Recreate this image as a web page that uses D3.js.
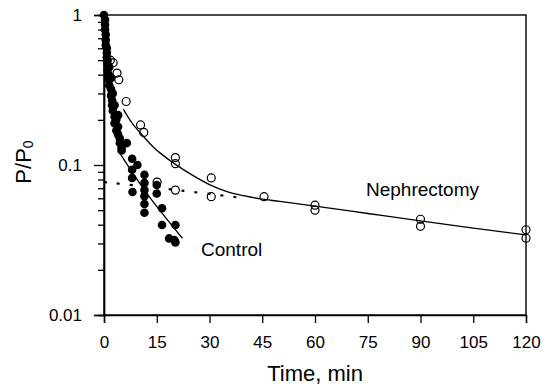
<!DOCTYPE html>
<html>
<head>
<meta charset="utf-8">
<script src="https://cdn.jsdelivr.net/npm/d3@7"></script>
<style>
  body { margin: 0; background: #fff; }
  text { font-family: "Liberation Sans", Arial, sans-serif; fill: #000; }
</style>
</head>
<body>
<div id="container"></div>
<script>
// values (time in min, P/P0)
const controlTime  = [0, 0.3, 0.3, 0.3, 0.5, 0.5, 0.5, 0.8, 0.8, 0.8, 1.0, 1.0, 1.0, 1.3, 1.3, 1.5, 1.5,
                      2.0, 2.0, 2.0, 2.3, 2.3, 2.5, 2.5, 3.0, 3.0, 3.0, 3.5, 3.5, 4.0, 4.0, 4.0, 4.5, 4.5,
                      5.0, 5.0, 6.5, 8.0, 8.0, 8.0, 8.1, 9.5, 11.5, 11.5, 11.5, 11.5, 11.5, 11.5,
                      15.0, 15.0, 16.5, 16.5, 20.3, 18.5, 20.0, 20.3];
const controlRatio = [1.0, 0.93, 0.86, 0.80, 0.74, 0.68, 0.63, 0.60, 0.56, 0.52, 0.50, 0.47, 0.43, 0.40, 0.37, 0.34, 0.45,
                      0.32, 0.29, 0.38, 0.27, 0.25, 0.23, 0.30, 0.21, 0.25, 0.19, 0.20, 0.17, 0.16, 0.18, 0.215, 0.15, 0.14,
                      0.13, 0.125, 0.14, 0.11, 0.093, 0.082, 0.066, 0.10, 0.086, 0.076, 0.068, 0.062, 0.055, 0.048,
                      0.0645, 0.0736, 0.0515, 0.0398, 0.0398, 0.0324, 0.0316, 0.0305];

const nephTime  = [1.8, 2.6, 3.7, 4.2, 6.3, 10.4, 11.3, 15.1, 20.3, 20.3, 20.3, 30.5, 30.5, 45.5, 60, 60, 90, 90, 120, 120];
const nephRatio = [0.50, 0.48, 0.41, 0.37, 0.265, 0.185, 0.165, 0.077, 0.112, 0.102, 0.068, 0.082, 0.0615, 0.0615,
                   0.054, 0.050, 0.0435, 0.039, 0.037, 0.0325];

// fitted curves
const nephFitTime  = [5.5, 8, 10.9, 14, 16, 20.3, 25, 30.3, 35, 40, 45, 50, 60, 75, 90, 105, 120];
const nephFitRatio = [0.236, 0.19, 0.158, 0.132, 0.12, 0.101, 0.086, 0.0735, 0.0665, 0.0622, 0.0592, 0.0572, 0.0532, 0.0475, 0.0424, 0.038, 0.0342];
const terminalTime  = [0, 22, 40];
const terminalRatio = [0.077, 0.0675, 0.06];
const controlFitTime  = [4, 11.9, 22.3];
const controlFitRatio = [0.125, 0.066, 0.0325];

const xTicks = [0, 15, 30, 45, 60, 75, 90, 105, 120];
const yTicks = [0.01, 0.1, 1];
const yTickLabels = ["0.01", "0.1", "1"];
const yMinor = [2, 3, 4, 5, 6, 7, 8, 9].flatMap(m => [m * 0.01, m * 0.1]);

const width = 544, height = 388;
const x = d3.scaleLinear().domain([0, 120]).range([104, 526]);
const y = d3.scaleLog().domain([0.01, 1]).range([315, 15]);

const svg = d3.select("#container")
  .append("svg")
    .attr("width", width)
    .attr("height", height);

// frame
svg.append("rect")
    .attr("x", x(0)).attr("y", y(1))
    .attr("width", x(120) - x(0)).attr("height", y(0.01) - y(1))
    .attr("fill", "none")
    .attr("stroke", "#000")
    .attr("stroke-width", 1.4);

const xAxis = svg.append("g")
    .attr("transform", `translate(0,${y(0.01)})`)
    .call(d3.axisBottom(x).tickValues(xTicks).tickSize(8).tickPadding(13).tickFormat(d3.format("d")));
const yAxis = svg.append("g")
    .attr("transform", `translate(${x(0)},0)`)
    .call(d3.axisLeft(y).tickValues(yTicks).tickSize(10).tickPadding(12)
      .tickFormat((d, i) => yTickLabels[i]));
const yAxisMinor = svg.append("g")
    .attr("transform", `translate(${x(0)},0)`)
    .call(d3.axisLeft(y).tickValues(yMinor).tickSize(6).tickFormat(""));

[xAxis, yAxis, yAxisMinor].forEach(g => {
  g.select(".domain").attr("stroke-width", 1.4);
  g.selectAll(".tick line").attr("stroke-width", 1.3);
  g.selectAll(".tick text").style("font-size", "17px").attr("fill", "#000");
});

const line = d3.line()
    .x(d => x(d[0]))
    .y(d => y(d[1]))
    .curve(d3.curveCatmullRom);

svg.append("path")
    .datum(nephFitTime.map((t, i) => [t, nephFitRatio[i]]))
    .attr("d", line)
    .attr("fill", "none")
    .attr("stroke", "#000")
    .attr("stroke-width", 1.3);

svg.append("path")
    .datum(terminalTime.map((t, i) => [t, terminalRatio[i]]))
    .attr("d", line)
    .attr("fill", "none")
    .attr("stroke", "#000")
    .attr("stroke-width", 2.2)
    .attr("stroke-dasharray", "3,10");

svg.append("path")
    .datum(controlFitTime.map((t, i) => [t, controlFitRatio[i]]))
    .attr("d", line)
    .attr("fill", "none")
    .attr("stroke", "#000")
    .attr("stroke-width", 1.3);

svg.append("g")
    .attr("fill", "#000")
  .selectAll("circle")
    .data(controlTime.map((t, i) => [t, controlRatio[i]]))
    .join("circle")
      .attr("cx", d => x(d[0]))
      .attr("cy", d => y(d[1]))
      .attr("r", 4.3);

svg.append("g")
    .attr("fill", "none")
    .attr("stroke", "#000")
    .attr("stroke-width", 1.2)
  .selectAll("circle")
    .data(nephTime.map((t, i) => [t, nephRatio[i]]))
    .join("circle")
      .attr("cx", d => x(d[0]))
      .attr("cy", d => y(d[1]))
      .attr("r", 4);

svg.append("text")
    .attr("x", 366).attr("y", 196)
    .style("font-size", "19px")
    .text("Nephrectomy");
svg.append("text")
    .attr("x", 201).attr("y", 256)
    .style("font-size", "19px")
    .text("Control");

svg.append("text")
    .attr("x", (x(0) + x(120)) / 2).attr("y", 381)
    .attr("text-anchor", "middle")
    .style("font-size", "22px")
    .text("Time, min");

const yLabel = svg.append("text")
    .attr("transform", "translate(31,162) rotate(-90)")
    .attr("text-anchor", "middle")
    .style("font-size", "22px");
yLabel.append("tspan").text("P/P");
yLabel.append("tspan").attr("dy", "0.15em").style("font-size", "14px").text("0");
</script>
</body>
</html>
